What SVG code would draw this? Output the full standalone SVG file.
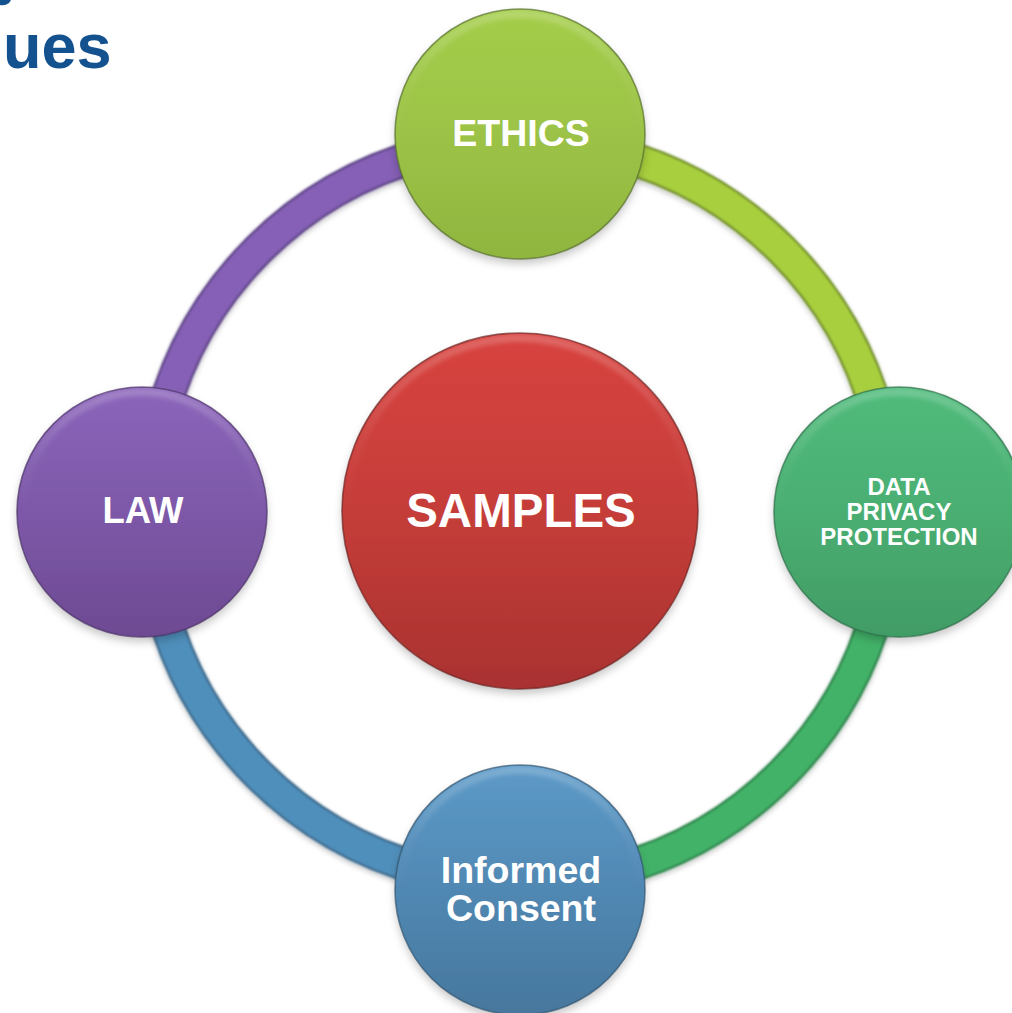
<svg xmlns="http://www.w3.org/2000/svg" width="1012" height="1013" viewBox="0 0 1012 1013">
<style>
text{font-family:"Liberation Sans",Arial,sans-serif;font-weight:700;fill:#fff;text-anchor:middle}
.arc{fill:none;stroke-width:30}
.edge{fill:none;stroke-width:34}
.rim{fill:none;stroke-width:1.6;stroke-opacity:.7;filter:url(#tiny)}
.shine{fill:none;stroke:url(#gShine);stroke-width:8;filter:url(#soft)}
</style>
<defs>
<filter id="shadow" x="-15%" y="-15%" width="130%" height="130%"><feDropShadow dx="0" dy="5" stdDeviation="4" flood-color="#000" flood-opacity=".22"/></filter>
<filter id="tubeShadow" filterUnits="userSpaceOnUse" x="0" y="0" width="1012" height="1013"><feDropShadow dx="0" dy="3" stdDeviation="2.5" flood-color="#000" flood-opacity=".22"/></filter>
<filter id="soft" x="-10%" y="-10%" width="120%" height="120%"><feGaussianBlur stdDeviation="2.2"/></filter>
<filter id="tiny" x="-5%" y="-5%" width="110%" height="110%"><feGaussianBlur stdDeviation=".6"/></filter>
<filter id="tube" filterUnits="userSpaceOnUse" x="0" y="0" width="1012" height="1013"><feGaussianBlur stdDeviation="1"/></filter>
<linearGradient id="gShine" x1="0" y1="0" x2="0" y2="1"><stop offset="0" stop-color="#fff" stop-opacity=".2"/><stop offset=".3" stop-color="#fff" stop-opacity=".04"/><stop offset=".5" stop-color="#fff" stop-opacity="0"/></linearGradient>
<linearGradient id="gRed" x1="0" y1="0" x2="0" y2="1"><stop offset="0" stop-color="#d8433f"/><stop offset=".5" stop-color="#c53d39"/><stop offset="1" stop-color="#a93230"/></linearGradient>
<linearGradient id="gLime" x1="0" y1="0" x2="0" y2="1"><stop offset="0" stop-color="#a4cd4a"/><stop offset=".5" stop-color="#9cc346"/><stop offset="1" stop-color="#90b540"/></linearGradient>
<linearGradient id="gGreen" x1="0" y1="0" x2="0" y2="1"><stop offset="0" stop-color="#50bb7b"/><stop offset=".5" stop-color="#4aae72"/><stop offset="1" stop-color="#419c65"/></linearGradient>
<linearGradient id="gBlue" x1="0" y1="0" x2="0" y2="1"><stop offset="0" stop-color="#5d9ac8"/><stop offset=".5" stop-color="#5088b3"/><stop offset="1" stop-color="#48779d"/></linearGradient>
<linearGradient id="gPurple" x1="0" y1="0" x2="0" y2="1"><stop offset="0" stop-color="#8b65ba"/><stop offset=".5" stop-color="#7d58a8"/><stop offset="1" stop-color="#6d4a92"/></linearGradient>
</defs>
<rect width="1012" height="1013" fill="#fff"/>
<g id="heading">
<text x="3" y="68" font-size="63" style="fill:#14518f;text-anchor:start">ues</text>
<path d="M0 0H11L9 3Q5 6 0 5Z" fill="#14518f"/>
</g>
<g id="connectors">
<g filter="url(#tubeShadow)"><path class="edge" stroke="#6f8c2c" filter="url(#tube)" d="M616 154A371 371 0 0 1 878 416"/></g>
<path class="arc" stroke="#a8cf3e" filter="url(#tube)" d="M616 154A371 371 0 0 1 878 416"/>
<g filter="url(#tubeShadow)"><path class="edge" stroke="#2c8049" filter="url(#tube)" d="M878 608A371 371 0 0 1 616 870"/></g>
<path class="arc" stroke="#43b268" filter="url(#tube)" d="M878 608A371 371 0 0 1 616 870"/>
<g filter="url(#tubeShadow)"><path class="edge" stroke="#3a6688" filter="url(#tube)" d="M424 870A371 371 0 0 1 162 608"/></g>
<path class="arc" stroke="#4f8fbb" filter="url(#tube)" d="M424 870A371 371 0 0 1 162 608"/>
<g filter="url(#tubeShadow)"><path class="edge" stroke="#5c4284" filter="url(#tube)" d="M162 416A371 371 0 0 1 424 154"/></g>
<path class="arc" stroke="#8560b6" filter="url(#tube)" d="M162 416A371 371 0 0 1 424 154"/>
</g>
<g id="samples">
<circle cx="520" cy="511" r="178" fill="url(#gRed)" filter="url(#shadow)"/>
<circle class="shine" cx="520" cy="511" r="173"/>
<circle class="rim" cx="520" cy="511" r="178" stroke="#6e2523"/>
<text x="521" y="527" font-size="47.5">SAMPLES</text>
</g>
<g id="ethics">
<circle cx="520" cy="134" r="125" fill="url(#gLime)" filter="url(#shadow)"/>
<circle class="shine" cx="520" cy="134" r="120"/>
<circle class="rim" cx="520" cy="134" r="125" stroke="#566e2c"/>
<text x="521" y="146" font-size="37.5">ETHICS</text>
</g>
<g id="data-privacy">
<circle cx="899" cy="512" r="125" fill="url(#gGreen)" filter="url(#shadow)"/>
<circle class="shine" cx="899" cy="512" r="120"/>
<circle class="rim" cx="899" cy="512" r="125" stroke="#2d6f48"/>
<text font-size="24"><tspan x="899" y="495">DATA</tspan><tspan x="899" y="520">PRIVACY</tspan><tspan x="899" y="545">PROTECTION</tspan></text>
</g>
<g id="informed-consent">
<circle cx="520" cy="890" r="125" fill="url(#gBlue)" filter="url(#shadow)"/>
<circle class="shine" cx="520" cy="890" r="120"/>
<circle class="rim" cx="520" cy="890" r="125" stroke="#33566f"/>
<text font-size="37.5"><tspan x="521" y="883">Informed</tspan><tspan x="521" y="921">Consent</tspan></text>
</g>
<g id="law">
<circle cx="142" cy="512" r="125" fill="url(#gPurple)" filter="url(#shadow)"/>
<circle class="shine" cx="142" cy="512" r="120"/>
<circle class="rim" cx="142" cy="512" r="125" stroke="#4b3368"/>
<text x="143" y="523" font-size="36.5">LAW</text>
</g>
</svg>
